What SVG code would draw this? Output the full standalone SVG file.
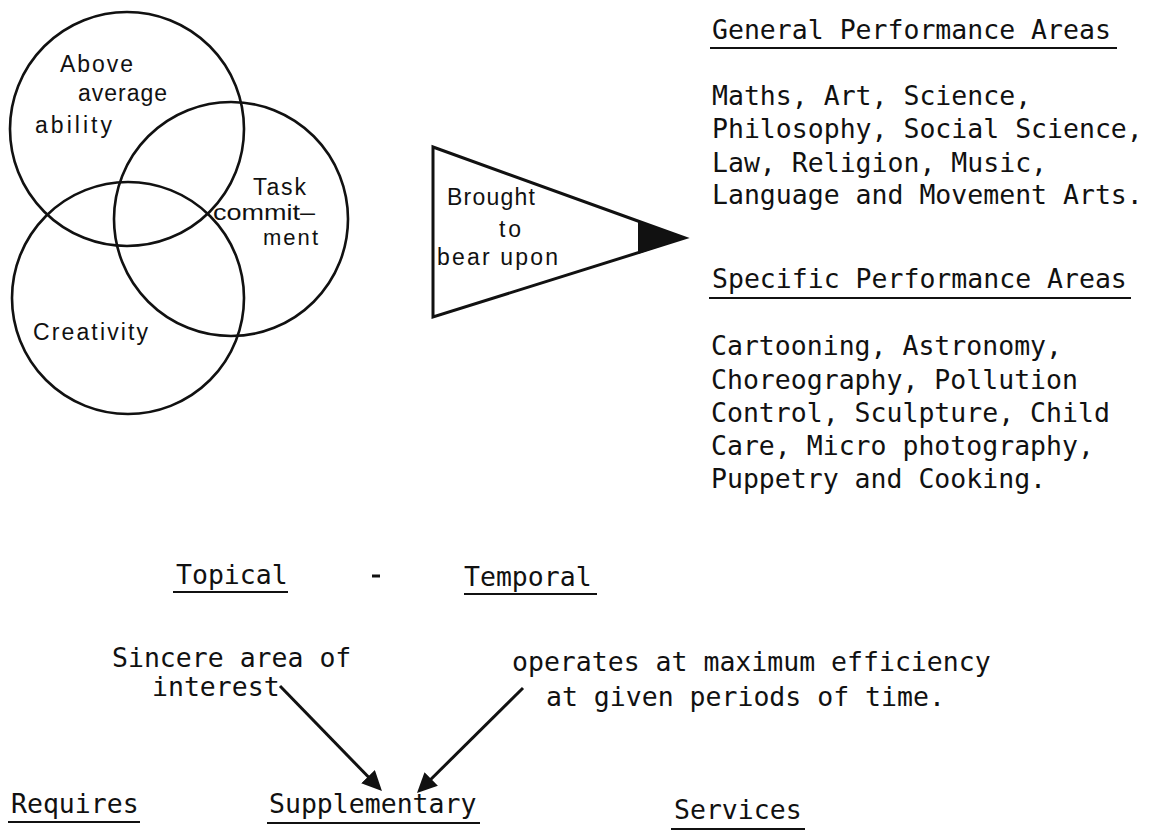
<svg xmlns="http://www.w3.org/2000/svg" width="1161" height="831" viewBox="0 0 1161 831">
  <style>
    .circ { fill: none; stroke: #111; stroke-width: 2.6; }
    .sans { font-family: "Liberation Sans", Arial, sans-serif; font-size: 23px; fill: #111; }
    .sm { font-size: 22px; }
    .pen { font-family: "Liberation Sans", Arial, sans-serif; font-size: 23px; fill: #111; }
    .mono { font-family: "DejaVu Sans Mono", "Liberation Mono", monospace; font-size: 26.5px; fill: #111; }
    .ul { stroke: #111; stroke-width: 2; fill: none; }
    .arrow { stroke: #111; stroke-width: 3; fill: none; marker-end: url(#head); }
  </style>
  <defs>
    <marker id="head" markerUnits="userSpaceOnUse" markerWidth="22" markerHeight="20" refX="10" refY="9.5" orient="auto" viewBox="0 0 22 20">
      <path d="M0,0 L20,9.5 L0,19 Z" fill="#111"/>
    </marker>
  </defs>
  <rect width="1161" height="831" fill="#fff"/>

  <g id="circle-ability">
    <circle class="circ" cx="127" cy="129" r="117"/>
    <text class="sans" x="60" y="72" textLength="73" lengthAdjust="spacing">Above</text>
    <text class="sans" x="78" y="101" textLength="89" lengthAdjust="spacing">average</text>
    <text class="sans" x="35" y="133" textLength="77" lengthAdjust="spacing">ability</text>
  </g>
  <g id="circle-task">
    <circle class="circ" cx="231" cy="219" r="117"/>
    <text class="sans" x="253" y="195" textLength="53" lengthAdjust="spacing">Task</text>
    <text class="sans sm" x="213" y="220" textLength="102" lengthAdjust="spacingAndGlyphs">commit–</text>
    <text class="sans sm" x="263" y="245" textLength="55" lengthAdjust="spacing">ment</text>
  </g>
  <g id="circle-creativity">
    <circle class="circ" cx="128" cy="298" r="116"/>
    <text class="sans" x="33" y="340" textLength="115" lengthAdjust="spacing">Creativity</text>
  </g>

  <g id="pennant">
    <polygon points="433,147 685,238 433,317" fill="#fff" stroke="#111" stroke-width="3" stroke-linejoin="miter"/>
    <polygon points="638,221 685,238 638,254" fill="#111"/>
    <text class="pen" x="447" y="205" textLength="88" lengthAdjust="spacing">Brought</text>
    <text class="pen" x="499" y="237" textLength="22" lengthAdjust="spacing">to</text>
    <text class="pen" x="437" y="265" textLength="121" lengthAdjust="spacing">bear upon</text>
  </g>

  <g id="general-areas">
    <text class="mono" x="712" y="39">General Performance Areas</text>
    <line class="ul" x1="710" y1="48" x2="1117" y2="48"/>
    <text class="mono" x="712" y="105">Maths, Art, Science,</text>
    <text class="mono" x="712" y="138">Philosophy, Social Science,</text>
    <text class="mono" x="712" y="172">Law, Religion, Music,</text>
    <text class="mono" x="712" y="204">Language and Movement Arts.</text>
  </g>

  <g id="specific-areas">
    <text class="mono" x="712" y="288">Specific Performance Areas</text>
    <line class="ul" x1="709" y1="298" x2="1131" y2="298"/>
    <text class="mono" x="711" y="355">Cartooning, Astronomy,</text>
    <text class="mono" x="711" y="389">Choreography, Pollution</text>
    <text class="mono" x="711" y="422">Control, Sculpture, Child</text>
    <text class="mono" x="711" y="455">Care, Micro photography,</text>
    <text class="mono" x="711" y="488">Puppetry and Cooking.</text>
  </g>

  <g id="topical">
    <text class="mono" x="176" y="584">Topical</text>
    <line class="ul" x1="173" y1="592" x2="288" y2="592"/>
  </g>
  <g id="dash">
    <line x1="372" y1="576" x2="380" y2="576" stroke="#111" stroke-width="3"/>
  </g>
  <g id="temporal">
    <text class="mono" x="464" y="586">Temporal</text>
    <line class="ul" x1="464" y1="594" x2="597" y2="594"/>
  </g>

  <g id="sincere">
    <text class="mono" x="112" y="667">Sincere area of</text>
    <text class="mono" x="152" y="696">interest</text>
  </g>
  <g id="operates">
    <text class="mono" x="512" y="671">operates at maximum efficiency</text>
    <text class="mono" x="546" y="706">at given periods of time.</text>
  </g>

  <g id="requires">
    <text class="mono" x="11" y="813">Requires</text>
    <line class="ul" x1="8" y1="822" x2="140" y2="822"/>
  </g>
  <g id="supplementary">
    <text class="mono" x="269" y="813">Supplementary</text>
    <line class="ul" x1="267" y1="823" x2="480" y2="823"/>
  </g>
  <g id="services">
    <text class="mono" x="674" y="819">Services</text>
    <line class="ul" x1="671" y1="829" x2="805" y2="829"/>
  </g>

  <g id="connectors">
    <line class="arrow" x1="280" y1="686" x2="375" y2="783.8"/>
    <line class="arrow" x1="523" y1="688" x2="424.1" y2="786"/>
  </g>
</svg>
